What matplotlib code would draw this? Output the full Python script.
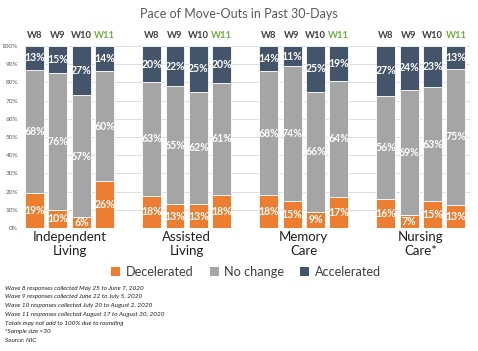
import matplotlib
matplotlib.use("Agg")
import matplotlib.pyplot as plt
import numpy as np
from matplotlib.patches import Patch

plt.rcParams['font.family'] = ['Lato', 'DejaVu Sans']

groups = ["Independent\nLiving", "Assisted\nLiving", "Memory\nCare", "Nursing\nCare*"]
waves = ["W8", "W9", "W10", "W11"]
decelerated = [[19, 10, 6, 26], [18, 13, 13, 18], [18, 15, 9, 17], [16, 7, 15, 13]]
no_change = [[68, 76, 67, 60], [63, 65, 62, 61], [68, 74, 66, 64], [56, 69, 63, 75]]
accelerated = [[13, 15, 27, 14], [20, 22, 25, 20], [14, 11, 25, 19], [27, 24, 23, 13]]
series_names = ["Decelerated", "No change", "Accelerated"]
colors = ["#ED7D31", "#A5A5A5", "#44546A"]
footnotes = [
    "Wave 8 responses collected May 25 to June 7, 2020",
    "Wave 9 responses collected June 22 to July 5, 2020",
    "Wave 10 responses collected July 20 to August 2, 2020",
    "Wave 11 responses collected August 17 to August 30, 2020",
    "Totals may not add to 100% due to rounding",
    "*Sample size <30",
    "Source: NIC",
]
title = "Pace of Move-Outs in Past 30-Days"

fig = plt.figure(figsize=(4.78, 3.51), dpi=100)
ax = fig.add_axes([25/478, 1-228/351, 445/478, 182/351])

d = np.array(decelerated, float)
n = np.array(no_change, float)
a = np.array(accelerated, float)
tot = d + n + a
dn, nn, an = d/tot*100, n/tot*100, a/tot*100

width = 0.81
lab_kw = dict(ha="center", va="center", color="white", fontsize=7.6, fontweight="bold", zorder=4)
for g in range(len(groups)):
    xs = np.arange(4) + g*5
    ax.bar(xs, dn[g], width, color=colors[0], edgecolor="white", linewidth=0.6, zorder=3)
    ax.bar(xs, nn[g], width, bottom=dn[g], color=colors[1], edgecolor="white", linewidth=0.6, zorder=3)
    ax.bar(xs, an[g], width, bottom=dn[g]+nn[g], color=colors[2], edgecolor="white", linewidth=0.6, zorder=3)
    for i, x in enumerate(xs):
        ax.text(x, dn[g][i]/2, f"{decelerated[g][i]}%", **lab_kw)
        ax.text(x, dn[g][i] + nn[g][i]/2, f"{no_change[g][i]}%", **lab_kw)
        ax.text(x, dn[g][i] + nn[g][i] + an[g][i]/2, f"{accelerated[g][i]}%", **lab_kw)
        ax.text(x, 106, waves[i], ha="center", va="center", fontsize=6.8, fontweight="bold",
                color="#70AD47" if waves[i] == "W11" else "#404040")
    ax.text(g*5 + 1.5, -1.5, groups[g], ha="center", va="top", fontsize=9.5,
            color="#202020", linespacing=1.2)

ax.set_xlim(-0.406, 18.6)
ax.set_ylim(0, 100)
ax.set_yticks(np.arange(0, 101, 10))
ax.set_yticklabels([f"{v}%" for v in range(0, 101, 10)])
ax.tick_params(axis="y", labelsize=4.6, labelcolor="#595959", length=0, pad=5)
ax.set_xticks([])
ax.grid(axis="y", color="#D9D9D9", linewidth=0.6, zorder=0)
for s in ax.spines.values():
    s.set_visible(False)

fig.text(0.5, 1-14/351, title, ha="center", va="center", fontsize=9, color="#595959")

handles = [Patch(facecolor=c, edgecolor="none") for c in colors]
fig.legend(handles, series_names, loc="center", bbox_to_anchor=(246/478, 1-272/351),
           ncol=3, frameon=False, fontsize=9.2, handlelength=0.7, handleheight=0.7,
           handletextpad=0.4, columnspacing=1.3, labelcolor="#404040")

for k, line in enumerate(footnotes):
    fig.text(5/478, 1-(288 + k*8.8)/351, line, ha="left", va="center", fontsize=4.6,
             style="italic", color="#202020")

fig.savefig("out.png", dpi=100)
